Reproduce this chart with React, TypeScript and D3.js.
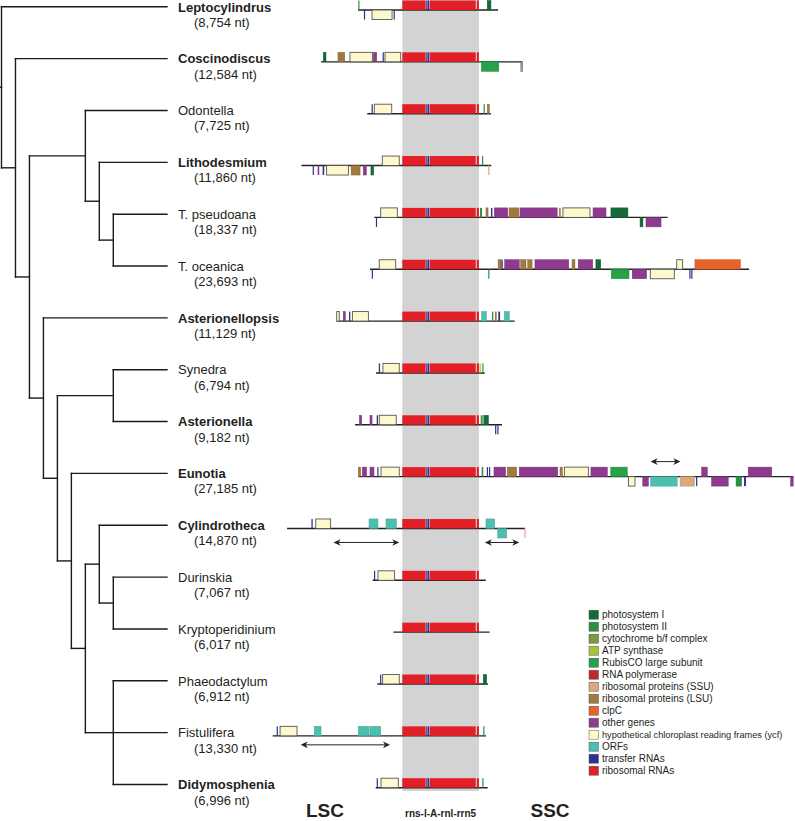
import React from "react";
import * as d3 from "d3";

// ---------- DATA ----------
const speciesNames = [
  "Leptocylindrus", "Coscinodiscus", "Odontella", "Lithodesmium", "T. pseudoana", "T. oceanica",
  "Asterionellopsis", "Synedra", "Asterionella", "Eunotia", "Cylindrotheca", "Durinskia",
  "Kryptoperidinium", "Phaeodactylum", "Fistulifera", "Didymosphenia",
];
const boldNames = [true, true, false, true, false, false, true, false, true, true, true, false, false, false, false, true];
const genomeSizes = [8754, 12584, 7725, 11860, 18337, 23693, 11129, 6794, 9182, 27185, 14870, 7067, 6017, 6912, 13330, 6996];
// start of each mapped region, in kb relative to the start of rns
const genomeStart = [-2.77, -5.08, -2.19, -6.3, -1.75, -2.02, -4.1, -1.64, -2.95, -2.75, -7.2, -1.85, -0.56, -1.56, -8.1, -1.66];

// rRNA operon shared by all (rns - trnI - trnA - rnl - rrn5), kb
const operon: [number, number, string][] = [
  [0, 1.46, "rRNA"], [1.5, 1.57, "tRNA"], [1.6, 1.66, "tRNA"], [1.71, 4.59, "rRNA"], [4.66, 4.79, "rRNA"],
];

// genes: [start kb, end kb, strand (+1 above / -1 below), category]
type G = [number, number, number, string];
const genesLepto: G[] = [[-2.75, -2.69, 1, "PSII"], [-2.4, -2.33, -1, "tRNA"], [-1.89, -0.64, -1, "ycf"], [-0.54, -0.47, -1, "tRNA"], [5.31, 5.54, 1, "PSI"]];
const genesCosc: G[] = [[-4.94, -4.77, 1, "PSI"], [-4.02, -3.6, 1, "LSU"], [-3.27, -1.87, 1, "ycf"], [-1.81, -1.6, 1, "other"], [-1.23, -1.16, 1, "tRNA"], [-1.08, -0.1, 1, "ycf"], [4.94, 6.03, -1, "RbcL"], [7.42, 7.48, -1, "ycf"]];
const genesOdon: G[] = [[-1.92, -1.86, 1, "tRNA"], [-1.75, -0.66, 1, "ycf"], [5.08, 5.14, 1, "PSII"], [5.31, 5.44, 1, "LSU"]];
const genesLitho: G[] = [[-1.25, -0.19, 1, "ycf"], [4.98, 5.04, 1, "PSII"], [-5.6, -5.54, -1, "tRNA"], [-5.29, -5.19, -1, "other"], [-4.98, -4.88, -1, "tRNA"], [-4.73, -3.37, -1, "ycf"], [-3.2, -2.64, -1, "LSU"], [-2.44, -2.25, -1, "other"], [-1.96, -1.79, -1, "PSI"], [5.37, 5.44, -1, "SSU"]];
const genesTpse: G[] = [[-1.65, -1.59, -1, "tRNA"], [-1.35, -0.31, 1, "ycf"], [4.86, 4.98, 1, "PSII"], [5.23, 5.36, 1, "LSU"], [5.54, 5.63, 1, "tRNA"], [5.75, 6.59, 1, "other"], [6.67, 7.29, 1, "LSU"], [7.36, 9.68, 1, "other"], [9.8, 9.9, 1, "LSU"], [10.04, 11.73, 1, "ycf"], [11.92, 12.73, 1, "other"], [13.04, 14.1, 1, "PSI"], [14.86, 15.04, -1, "PSI"], [15.23, 16.17, -1, "other"]];
const genesToce: G[] = [[-1.91, -1.85, -1, "tRNA"], [-1.44, -0.41, 1, "ycf"], [5.99, 6.2, 1, "LSU"], [6.2, 6.27, 1, "tRNA"], [6.4, 7.31, 1, "other"], [7.4, 7.73, 1, "LSU"], [7.84, 8.11, 1, "LSU"], [8.29, 10.4, 1, "other"], [10.61, 10.79, 1, "LSU"], [11.0, 11.9, 1, "other"], [12.1, 12.4, 1, "PSI"], [17.15, 17.52, 1, "ycf"], [18.29, 21.13, 1, "clpC"], [5.37, 5.43, -1, "PSII"], [13.06, 14.17, -1, "RbcL"], [14.37, 15.27, -1, "other"], [15.5, 17.0, -1, "ycf"], [17.94, 18.0, -1, "tRNA"], [18.06, 18.11, -1, "tRNA"]];
const genesAstp: G[] = [[-4.1, -3.94, 1, "ycf"], [-3.69, -3.56, 1, "other"], [-3.33, -3.25, 1, "tRNA"], [-3.12, -2.12, 1, "ycf"], [4.96, 5.25, 1, "ORF"], [5.61, 5.69, 1, "PSII"], [5.79, 5.9, 1, "LSU"], [6.0, 6.11, 1, "tRNA"], [6.38, 6.69, 1, "ORF"]];
const genesSyne: G[] = [[-1.47, -1.39, 1, "tRNA"], [-1.21, -0.19, 1, "ycf"], [4.83, 4.9, 1, "ATP"], [5.0, 5.07, 1, "PSII"]];
const genesAste: G[] = [[-2.68, -2.54, 1, "other"], [-2.02, -1.89, 1, "other"], [-1.6, -1.52, 1, "tRNA"], [-1.44, -0.38, 1, "ycf"], [4.9, 4.96, 1, "PSII"], [5.0, 5.06, 1, "PSII"], [5.11, 5.38, 1, "PSI"], [5.8, 5.85, -1, "tRNA"], [5.94, 6.0, -1, "tRNA"]];
const genesEuno: G[] = [[-2.75, -2.6, 1, "LSU"], [-2.5, -2.23, 1, "other"], [-2.02, -1.77, 1, "other"], [-1.56, -1.5, 1, "tRNA"], [-1.33, -0.19, 1, "ycf"], [4.96, 5.06, 1, "PSII"], [5.28, 5.33, 1, "tRNA"], [5.42, 5.47, 1, "tRNA"], [5.73, 6.46, 1, "other"], [6.56, 7.15, 1, "LSU"], [7.31, 9.71, 1, "other"], [9.86, 10.0, 1, "LSU"], [10.13, 11.63, 1, "ycf"], [11.79, 12.81, 1, "other"], [13.03, 14.06, 1, "RbcL"], [18.71, 19.06, 1, "other"], [21.62, 23.09, 1, "other"], [14.13, 14.54, -1, "ycf"], [15.03, 15.38, -1, "other"], [15.52, 17.18, -1, "ORF"], [17.36, 18.26, -1, "SSU"], [18.36, 18.42, -1, "tRNA"], [19.33, 20.37, -1, "other"], [20.86, 21.21, -1, "PSII"], [21.36, 21.48, -1, "tRNA"], [24.27, 24.43, -1, "other"]];
const genesCyli: G[] = [[-5.68, -5.6, 1, "tRNA"], [-5.41, -4.48, 1, "ycf"], [-2.08, -1.52, 1, "ORF"], [-1.02, -0.37, 1, "ORF"], [5.23, 5.77, 1, "ORF"], [5.96, 6.52, -1, "ORF"], [7.63, 7.68, -1, "rRNAfaint"]];
const genesDuri: G[] = [[-1.77, -1.71, 1, "tRNA"], [-1.52, -0.48, 1, "ycf"]];
const genesKryp: G[] = [];
const genesPhae: G[] = [[-1.39, -1.33, 1, "tRNA"], [-1.23, -0.19, 1, "ycf"], [5.06, 5.27, 1, "PSI"]];
const genesFist: G[] = [[-7.85, -7.79, 1, "tRNA"], [-7.64, -6.58, 1, "ycf"], [-5.5, -5.08, 1, "ORF"], [-2.75, -2.08, 1, "ORF"], [-2.02, -1.35, 1, "ORF"], [5.06, 5.12, 1, "PSII"]];
const genesDidy: G[] = [[-1.6, -1.54, 1, "tRNA"], [-1.33, -0.25, 1, "ycf"], [5.0, 5.06, 1, "PSII"]];
const genesBySpecies = [genesLepto, genesCosc, genesOdon, genesLitho, genesTpse, genesToce, genesAstp, genesSyne, genesAste, genesEuno, genesCyli, genesDuri, genesKryp, genesPhae, genesFist, genesDidy];

// double-headed arrows: [species index, start kb, end kb, vertical offset from baseline]
const arrows: [number, number, number, number][] = [
  [9, 15.52, 17.38, -15], [10, -4.3, -0.19, 14], [10, 5.16, 7.31, 14], [14, -6.35, -0.77, 9],
];

// legend
const legendKeys = ["PSI", "PSII", "cyt", "ATP", "RbcL", "RNAP", "SSU", "LSU", "clpC", "other", "ycf", "ORF", "tRNA", "rRNA"];
const legendLabels = [
  "photosystem I", "photosystem II", "cytochrome b/f complex", "ATP synthase", "RubisCO large subunit",
  "RNA polymerase", "ribosomal proteins (SSU)", "ribosomal proteins (LSU)", "clpC", "other genes",
  "hypothetical chloroplast reading frames (ycf)", "ORFs", "transfer RNAs", "ribosomal RNAs",
];
const legendColors = ["#146b3a", "#2f8f40", "#7b9a3c", "#a6c43a", "#27a24b", "#c1272d", "#dcaa7a", "#a07a3e", "#e8622b", "#8e3a8f", "#fdf9cd", "#4dbfae", "#2e3192", "#e21f26"];

// phylogeny (level = horizontal depth of the node)
const treeData: any = {
  level: 0, children: [
    { leaf: 0 },
    { level: 1, children: [
      { leaf: 1 },
      { level: 2, children: [
        { level: 6, children: [{ leaf: 2 }, { level: 7, children: [{ leaf: 3 }, { level: 8, children: [{ leaf: 4 }, { leaf: 5 }] }] }] },
        { level: 3, children: [
          { leaf: 6 },
          { level: 4, children: [
            { level: 8, children: [{ leaf: 7 }, { leaf: 8 }] },
            { level: 5, children: [
              { leaf: 9 },
              { level: 6, children: [
                { level: 7, children: [{ leaf: 10 }, { level: 8, children: [{ leaf: 11 }, { leaf: 12 }] }] },
                { level: 8, children: [{ leaf: 13 }, { leaf: 14 }, { leaf: 15 }] },
              ] },
            ] },
          ] },
        ] },
      ] },
    ] },
  ],
};

// ---------- COMPONENT ----------
const FONT = "'Liberation Sans', Arial, Helvetica, sans-serif";

export default function App() {
  const W = 795, H = 821;
  const colorOf: Record<string, string> = {};
  legendKeys.forEach((k, i) => (colorOf[k] = legendColors[i]));
  colorOf["rRNAfaint"] = "#f2a0a0";

  const leafY = d3.scaleLinear().domain([0, 15]).range([6.8, 784.5]);
  const levelX = d3.scaleLinear().domain([0, 8]).range([1.5, 113.3]);
  const xs = d3.scaleLinear().domain([-8, 25]).range([402.3 - 8 * 16, 402.3 + 25 * 16]);
  const LEAF_X = 167;
  const GH = 9.5;
  const baseY = (i: number) => leafY(i) + 3.2;

  const root: any = d3.hierarchy(treeData);
  root.eachAfter((n: any) => {
    if (!n.children) { n.px = LEAF_X; n.py = leafY(n.data.leaf); }
    else { n.px = levelX(n.data.level); n.py = (n.children[0].py + n.children[n.children.length - 1].py) / 2; }
  });
  const treeLines: any[] = [];
  let k = 0;
  root.each((n: any) => {
    if (n.children) {
      treeLines.push(<line key={k++} x1={n.px} x2={n.px} y1={n.children[0].py} y2={n.children[n.children.length - 1].py} />);
      n.children.forEach((c: any) => treeLines.push(<line key={k++} x1={n.px} x2={c.px} y1={c.py} y2={c.py} />));
    }
  });
  treeLines.push(<line key={k++} x1={0} x2={root.px} y1={root.py} y2={root.py} />);

  const geneRect = (g: G, base: number, key: string) => {
    const [s, e, strand, cat] = g;
    const x0 = xs(s);
    const w = Math.max(xs(e) - x0, 1.2);
    const y = strand > 0 ? base - GH : base;
    const fill = colorOf[cat];
    const isYcf = cat === "ycf";
    const thin = w < 2;
    return (
      <rect key={key} x={x0} y={y} width={w} height={GH} fill={fill}
        stroke={isYcf ? "#555" : thin || cat === "rRNA" || cat === "rRNAfaint" ? "none" : (d3.color(fill) as any).darker(0.5).toString()}
        strokeWidth={isYcf ? 0.9 : 0.5} />
    );
  };

  const bandX0 = xs(0), bandX1 = xs(4.79);

  return (
    <svg width={W} height={H} viewBox={`0 0 ${W} ${H}`} style={{ position: "absolute", left: 0, top: 0, display: "block", background: "#fff" }} fontFamily={FONT}>
      <rect x={bandX0} y={0} width={bandX1 - bandX0} height={791} fill="#d3d3d3" />

      {/* tree */}
      <g stroke="#1a1a1a" strokeWidth={1.4} fill="none" strokeLinecap="square">{treeLines}</g>

      {/* labels */}
      {speciesNames.map((nm, i) => (
        <g key={"lab" + i} fill="#231f20">
          <text x={178} y={leafY(i) + 4.7} fontSize={13} fontWeight={boldNames[i] ? "bold" : "normal"}>{nm}</text>
          <text x={194} y={leafY(i) + 20} fontSize={13}>({d3.format(",")(genomeSizes[i])} nt)</text>
        </g>
      ))}

      {/* genome maps */}
      {speciesNames.map((nm, i) => {
        const base = baseY(i);
        const x0 = xs(genomeStart[i]);
        const x1 = xs(genomeStart[i] + genomeSizes[i] / 1000);
        return (
          <g key={"map" + i}>
            <line x1={x0} x2={x1} y1={base} y2={base} stroke="#222" strokeWidth={1.4} />
            {operon.map((o, j) => geneRect([o[0], o[1], 1, o[2]], base, "op" + j))}
            {genesBySpecies[i].map((g, j) => geneRect(g, base, "g" + j))}
          </g>
        );
      })}

      {/* arrows */}
      {arrows.map(([si, s, e, dy], i) => {
        const y = baseY(si) + dy;
        const a = xs(s), b = xs(e);
        return (
          <g key={"ar" + i} fill="#222" stroke="#222">
            <line x1={a + 3} x2={b - 3} y1={y} y2={y} strokeWidth={1} />
            <path d={`M${a},${y} L${a + 7},${y - 3.3} L${a + 5},${y} L${a + 7},${y + 3.3} Z`} stroke="none" />
            <path d={`M${b},${y} L${b - 7},${y - 3.3} L${b - 5},${y} L${b - 7},${y + 3.3} Z`} stroke="none" />
          </g>
        );
      })}

      {/* legend */}
      {legendLabels.map((lb, i) => {
        const y = 614.7 + i * 12;
        const long = lb.length > 30;
        return (
          <g key={"lg" + i}>
            <rect x={589} y={y - 4.5} width={9.5} height={9} fill={legendColors[i]} stroke="#555" strokeWidth={0.5} />
            <text x={602} y={y + 3.6} fontSize={long ? 9.2 : 10} fill="#231f20">{lb}</text>
          </g>
        );
      })}

      {/* bottom labels */}
      <text x={325} y={816.5} fontSize={19} fontWeight="bold" textAnchor="middle" fill="#231f20">LSC</text>
      <text x={(bandX0 + bandX1) / 2} y={817} fontSize={10} fontWeight="bold" textAnchor="middle" fill="#231f20">rns-l-A-rnl-rrn5</text>
      <text x={550} y={816.5} fontSize={19} fontWeight="bold" textAnchor="middle" fill="#231f20">SSC</text>
    </svg>
  );
}
